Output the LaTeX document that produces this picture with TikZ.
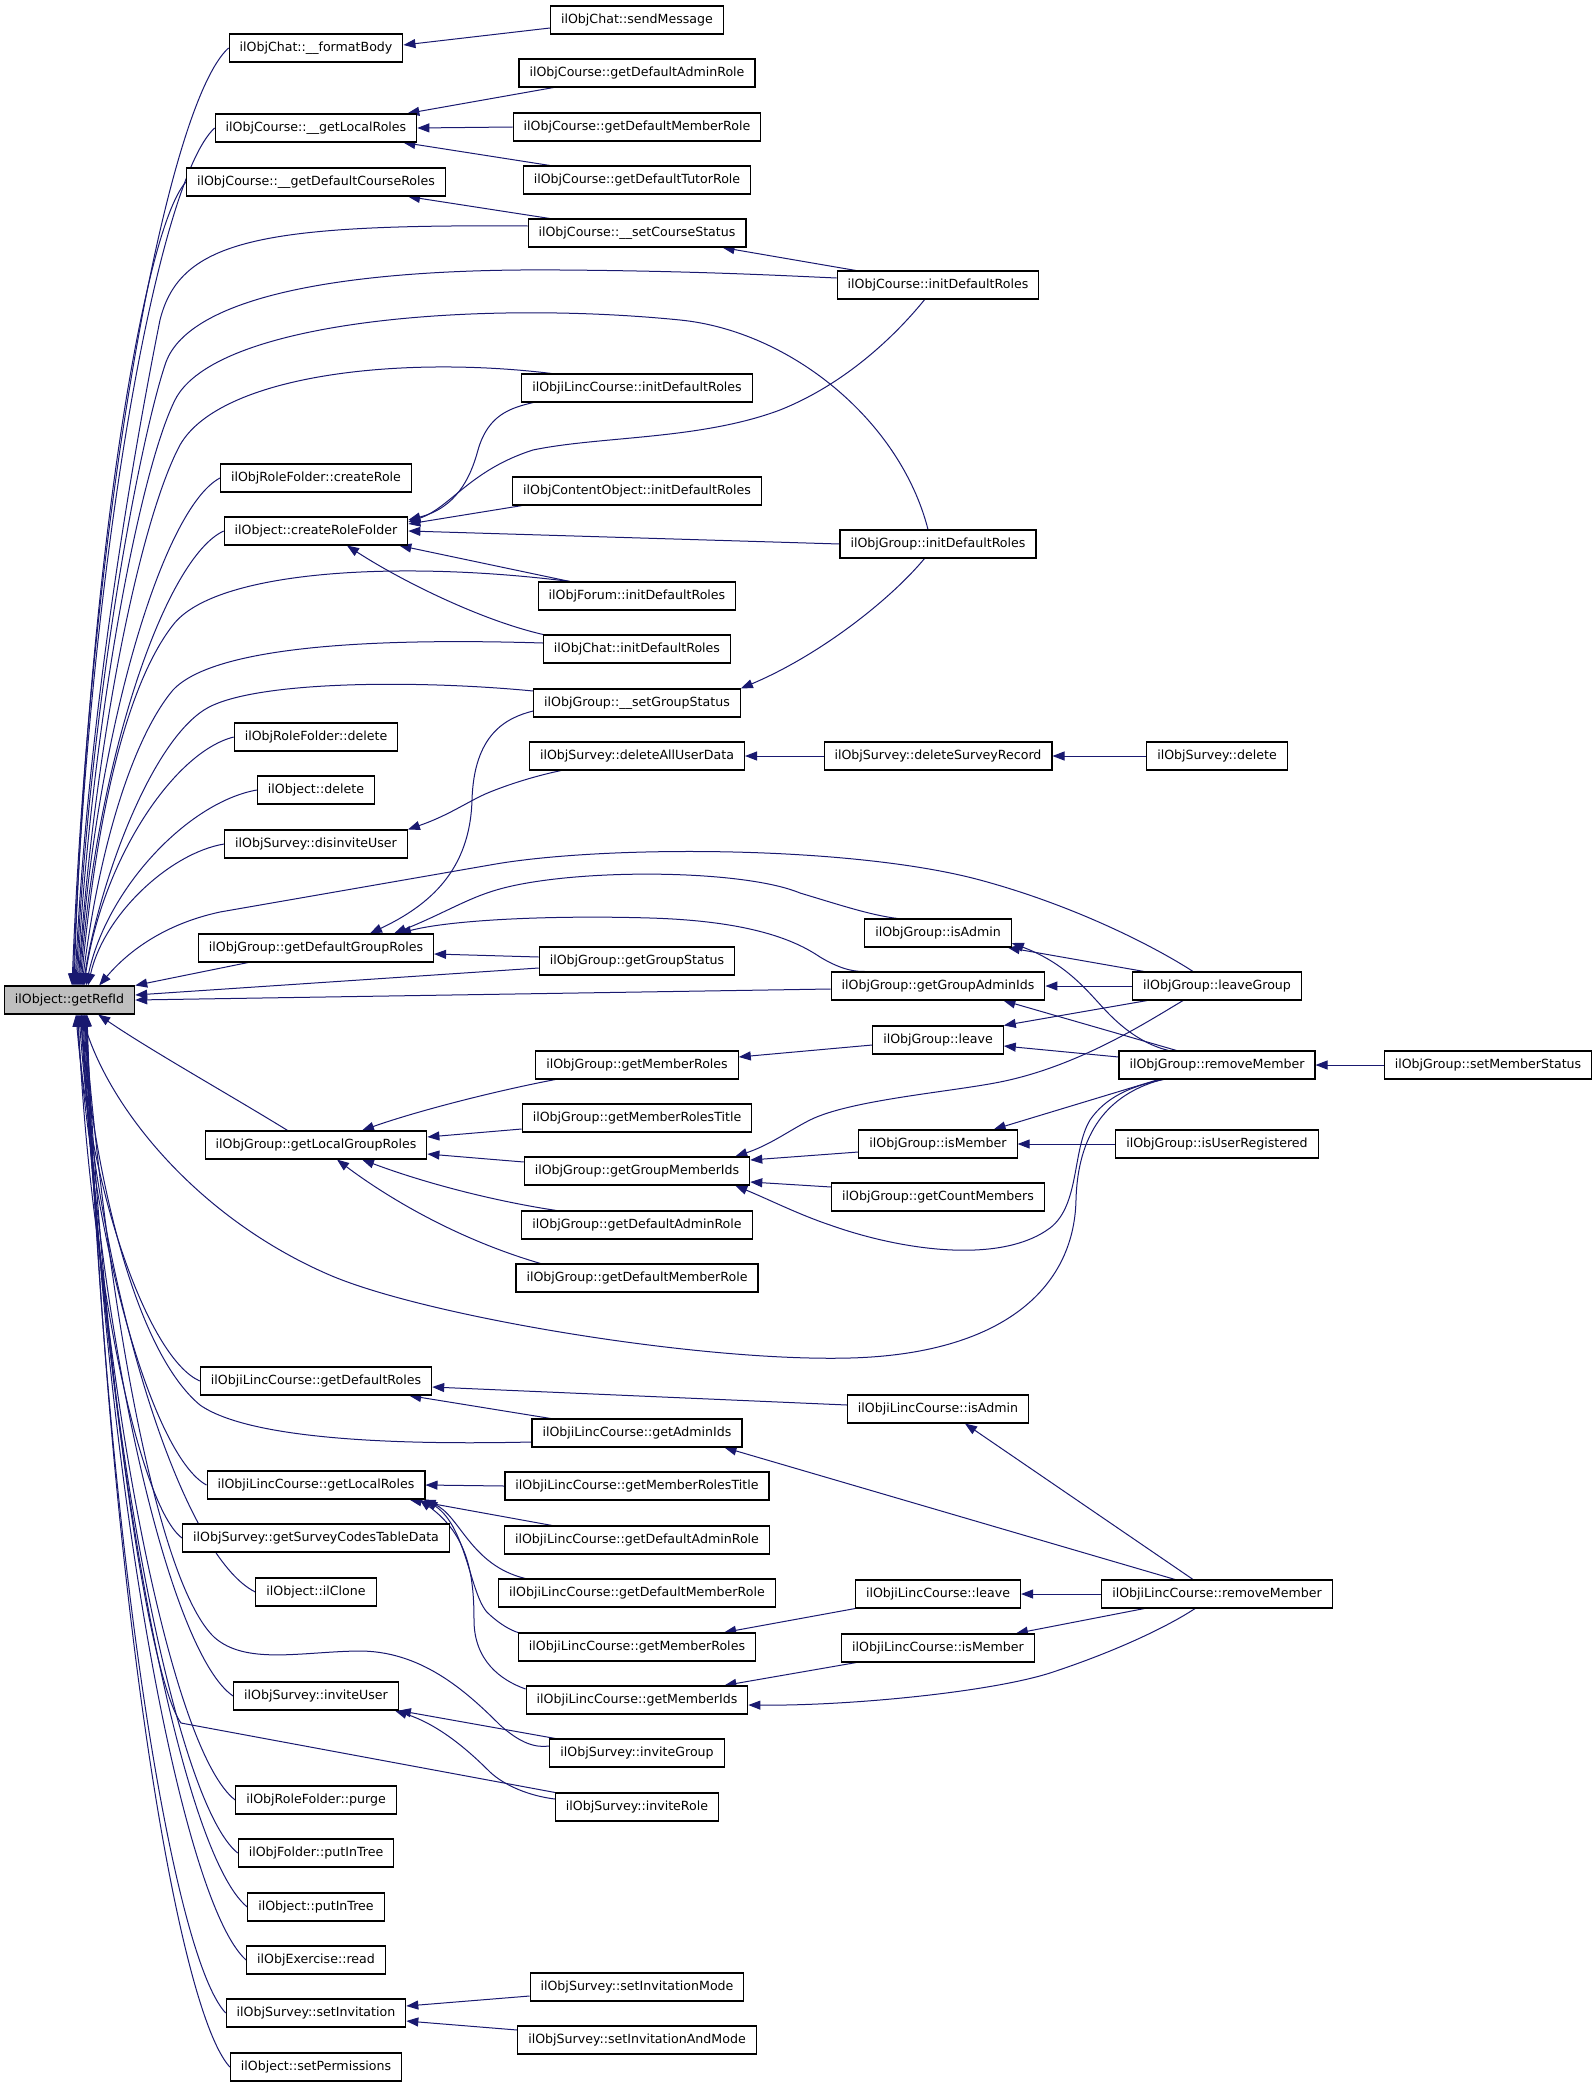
\documentclass[tikz,border=0pt]{standalone}
\usepackage{fontspec}
\setmainfont{DejaVu Sans}
\usetikzlibrary{arrows.meta,calc}
\definecolor{edgeblue}{HTML}{191970}
\definecolor{refgray}{HTML}{BFBFBF}
\pgfdeclarelayer{bg}
\pgfdeclarelayer{paper}
\pgfsetlayers{paper,bg,main}
\begin{document}
\begin{tikzpicture}[x=1pt,y=-1pt,
  >={Triangle[length=12pt,width=9pt]},
  fn/.style={draw=black, line width=1.1pt, fill=white, font=\fontsize{12.6pt}{15pt}\selectfont, inner xsep=10.5pt, inner ysep=0pt, minimum height=28pt},
  edg/.style={draw=edgeblue, line width=1pt, <-}]
\begin{pgfonlayer}{paper}
\fill[white] (0,0) rectangle (1595,2087);
\end{pgfonlayer}
\useasboundingbox (0,0) rectangle (1595,2087);

% root
\node[fn, fill=refgray] (refid) at (69.5,1000) {ilObject::getRefId};

% column B
\node[fn] (fb) at (316,48) {ilObjChat::\_\_formatBody};
\node[fn] (clr) at (316,128) {ilObjCourse::\_\_getLocalRoles};
\node[fn] (gdcr) at (316,182) {ilObjCourse::\_\_getDefaultCourseRoles};
\node[fn] (crole) at (316,478) {ilObjRoleFolder::createRole};
\node[fn] (crf) at (316,531) {ilObject::createRoleFolder};
\node[fn] (rfdel) at (316,737) {ilObjRoleFolder::delete};
\node[fn] (odel) at (316,790) {ilObject::delete};
\node[fn] (dis) at (316,844) {ilObjSurvey::disinviteUser};
\node[fn] (gdgr) at (316,948) {ilObjGroup::getDefaultGroupRoles};
\node[fn] (glgr) at (316,1145) {ilObjGroup::getLocalGroupRoles};
\node[fn] (ilgdr) at (316,1381) {ilObjiLincCourse::getDefaultRoles};
\node[fn] (illr) at (316,1485) {ilObjiLincCourse::getLocalRoles};
\node[fn] (sctd) at (316,1538) {ilObjSurvey::getSurveyCodesTableData};
\node[fn] (ilclone) at (316,1592) {ilObject::ilClone};
\node[fn] (iu) at (316,1696) {ilObjSurvey::inviteUser};
\node[fn] (purge) at (316,1800) {ilObjRoleFolder::purge};
\node[fn] (fpit) at (316,1853) {ilObjFolder::putInTree};
\node[fn] (opit) at (316,1907) {ilObject::putInTree};
\node[fn] (read) at (316,1960) {ilObjExercise::read};
\node[fn] (setinv) at (316,2013) {ilObjSurvey::setInvitation};
\node[fn] (setperm) at (316,2067) {ilObject::setPermissions};

% column C
\node[fn] (sm) at (637,20) {ilObjChat::sendMessage};
\node[fn] (car) at (637,73) {ilObjCourse::getDefaultAdminRole};
\node[fn] (cmr) at (637,127) {ilObjCourse::getDefaultMemberRole};
\node[fn] (ctr) at (637,180) {ilObjCourse::getDefaultTutorRole};
\node[fn] (scs) at (637,233) {ilObjCourse::\_\_setCourseStatus};
\node[fn] (ilinit) at (637,388) {ilObjiLincCourse::initDefaultRoles};
\node[fn] (coinit) at (637,491) {ilObjContentObject::initDefaultRoles};
\node[fn] (forum) at (637,596) {ilObjForum::initDefaultRoles};
\node[fn] (chatinit) at (637,649) {ilObjChat::initDefaultRoles};
\node[fn] (sgs) at (637,703) {ilObjGroup::\_\_setGroupStatus};
\node[fn] (daud) at (637,756) {ilObjSurvey::deleteAllUserData};
\node[fn] (ggs) at (637,961) {ilObjGroup::getGroupStatus};
\node[fn] (gmr) at (637,1065) {ilObjGroup::getMemberRoles};
\node[fn] (gmrt) at (637,1118) {ilObjGroup::getMemberRolesTitle};
\node[fn] (ggmi) at (637,1171) {ilObjGroup::getGroupMemberIds};
\node[fn] (gar) at (637,1225) {ilObjGroup::getDefaultAdminRole};
\node[fn] (gmrole) at (637,1278) {ilObjGroup::getDefaultMemberRole};
\node[fn] (ilgai) at (637,1433) {ilObjiLincCourse::getAdminIds};
\node[fn] (ilmrt) at (637,1486) {ilObjiLincCourse::getMemberRolesTitle};
\node[fn] (iladm) at (637,1540) {ilObjiLincCourse::getDefaultAdminRole};
\node[fn] (ilmemr) at (637,1593) {ilObjiLincCourse::getDefaultMemberRole};
\node[fn] (ilmroles) at (637,1647) {ilObjiLincCourse::getMemberRoles};
\node[fn] (ilmids) at (637,1700) {ilObjiLincCourse::getMemberIds};
\node[fn] (ig) at (637,1753) {ilObjSurvey::inviteGroup};
\node[fn] (ir) at (637,1807) {ilObjSurvey::inviteRole};
\node[fn] (sim) at (637,1987) {ilObjSurvey::setInvitationMode};
\node[fn] (siam) at (637,2040) {ilObjSurvey::setInvitationAndMode};

% column D
\node[fn] (cinit) at (938,285) {ilObjCourse::initDefaultRoles};
\node[fn] (ginit) at (938,544) {ilObjGroup::initDefaultRoles};
\node[fn] (dsr) at (938,756) {ilObjSurvey::deleteSurveyRecord};
\node[fn] (isadmin) at (938,933) {ilObjGroup::isAdmin};
\node[fn] (gga) at (938,986) {ilObjGroup::getGroupAdminIds};
\node[fn] (leave) at (938,1040) {ilObjGroup::leave};
\node[fn] (ism) at (938,1144) {ilObjGroup::isMember};
\node[fn] (gcm) at (938,1197) {ilObjGroup::getCountMembers};
\node[fn] (ilisadmin) at (938,1409) {ilObjiLincCourse::isAdmin};
\node[fn] (illeave) at (938,1594) {ilObjiLincCourse::leave};
\node[fn] (ilismem) at (938,1648) {ilObjiLincCourse::isMember};

% column E, F
\node[fn] (sdel) at (1217,756) {ilObjSurvey::delete};
\node[fn] (lg) at (1217,986) {ilObjGroup::leaveGroup};
\node[fn] (rm) at (1217,1065) {ilObjGroup::removeMember};
\node[fn] (iur) at (1217,1144) {ilObjGroup::isUserRegistered};
\node[fn] (ilrm) at (1217,1594) {ilObjiLincCourse::removeMember};
\node[fn] (sms) at (1488,1065) {ilObjGroup::setMemberStatus};

\begin{pgfonlayer}{bg}
% ---- edges into getRefId, upper column B
\draw[edg] ($(refid.north)+(2.5,0)$) .. controls +(19,-469) and +(-62,56) .. (fb.west);
\draw[edg] ($(refid.north)+(3.5,0)$) .. controls +(17,-429) and +(-56,51) .. (clr.west);
\draw[edg] ($(refid.north)+(4.5,0)$) .. controls +(13,-402) and +(-44,48) .. (gdcr.west);
\draw[edg] ($(refid.north)+(9.5,0)$) .. controls +(17,-254) and +(-57,30) .. (crole.west);
\draw[edg] ($(refid.north)+(10.5,0)$) .. controls +(17,-228) and +(-58,27) .. (crf.west);
\draw[edg] ($(refid.north)+(14.5,0)$) .. controls +(18,-125) and +(-60,15) .. (rfdel.west);
\draw[edg] ($(refid.north)+(16.5,0)$) .. controls +(21,-98) and +(-68,12) .. (odel.west);
\draw[edg] ($(refid.north)+(18.5,0)$) .. controls +(16,-71) and +(-54,9) .. (dis.west);
% upper long
\draw[edg] ($(refid.north)+(5.5,0)$) .. controls (88,700) and (140,420) .. (160,320) .. controls (180,240) and (260,224) .. ($(scs.west)+(0,-7)$);
\draw[edg] ($(refid.north)+(6.5,0)$) .. controls (90,700) and (140,440) .. (165,365) .. controls (185,300) and (330,268) .. (560,270) .. controls (700,271) and (790,276) .. ($(cinit.west)+(0,-7)$);
\draw[edg] ($(refid.north)+(7.5,0)$) .. controls (92,720) and (140,470) .. (175,400) .. controls (215,320) and (480,300) .. (680,320) .. controls (790,331) and (900,420) .. ($(ginit.north)+(-10,0)$);
\draw[edg] ($(refid.north)+(8.5,0)$) .. controls (95,740) and (140,520) .. (180,445) .. controls (220,375) and (400,355) .. ($(ilinit.north west)+(30,0)$);
\draw[edg] ($(refid.north)+(11.5,0)$) .. controls (98,800) and (130,680) .. (173,625) .. controls (215,570) and (400,560) .. ($(forum.north west)+(32,0)$);
\draw[edg] ($(refid.north)+(12.5,0)$) .. controls (100,840) and (135,735) .. (173,690) .. controls (215,645) and (380,638) .. ($(chatinit.west)+(0,-6)$);
\draw[edg] ($(refid.north)+(13.5,0)$) .. controls (100,880) and (150,745) .. (204,710) .. controls (250,680) and (420,680) .. ($(sgs.west)+(0,-12)$);
\draw[edg] ($(refid.north east)+(-36,0)$) .. controls (125,955) and (160,925) .. (220,912) -- (490,865) .. controls (600,845) and (850,845) .. (980,880) .. controls (1080,907) and (1160,950) .. ($(lg.north)+(-24,0)$);
\draw[edg] (refid.north east) -- ($(gdgr.south west)+(50,0)$);
\draw[edg] ($(refid.east)+(0,-5)$) -- ($(ggs.west)+(0,7)$);
\draw[edg] (refid.east) -- ($(gga.west)+(0,3)$);
% ---- lower
\draw[edg] ($(refid.south east)+(-37,0)$) .. controls (150,1050) and (230,1095) .. ($(glgr.north west)+(83,0)$);
\draw[edg] ($(refid.south)+(6.5,0)$) .. controls +(15,184) and +(-50,-22) .. (ilgdr.west);
\draw[edg] ($(refid.south)+(7.5,0)$) .. controls +(16,236) and +(-52,-28) .. (illr.west);
\draw[edg] ($(refid.south)+(8.5,0)$) .. controls +(12,262) and +(-42,-31) .. (sctd.west);
\draw[edg] ($(refid.south)+(9.5,0)$) .. controls +(21,289) and +(-71,-35) .. (ilclone.west);
\draw[edg] ($(refid.south)+(11.5,0)$) .. controls +(18,341) and +(-61,-41) .. (iu.west);
\draw[edg] ($(refid.south)+(12.5,0)$) .. controls +(19,393) and +(-62,-47) .. (purge.west);
\draw[edg] ($(refid.south)+(13.5,0)$) .. controls +(19,420) and +(-62,-50) .. (fpit.west);
\draw[edg] ($(refid.south)+(14.5,0)$) .. controls +(20,447) and +(-66,-54) .. (opit.west);
\draw[edg] ($(refid.south)+(15.5,0)$) .. controls +(19,473) and +(-64,-57) .. (read.west);
\draw[edg] ($(refid.south)+(16.5,0)$) .. controls +(17,500) and +(-56,-60) .. (setinv.west);
\draw[edg] ($(refid.south)+(17.5,0)$) .. controls +(17,527) and +(-57,-63) .. (setperm.west);
% lower long
\draw[edg] ($(refid.south)+(12,0)$) .. controls (110,1110) and (200,1220) .. (332,1276) .. controls (430,1317) and (700,1362) .. (850,1358) .. controls (1000,1354) and (1074,1290) .. (1076,1200) .. controls (1078,1125) and (1115,1092) .. ($(rm.south)+(-55,0)$);
\draw[edg] ($(refid.south)+(10.5,0)$) .. controls (98,1200) and (140,1355) .. (200,1405) .. controls (250,1440) and (400,1445) .. ($(ilgai.west)+(0,9)$);
\draw[edg] ($(refid.south)+(14.5,0)$) .. controls (110,1330) and (160,1585) .. (214,1637) .. controls (245,1665) and (300,1652) .. (357,1651) .. controls (420,1650) and (465,1690) .. (500,1725) .. controls (520,1743) and (535,1748) .. ($(ig.west)+(0,-7)$);
\draw[edg] ($(refid.south)+(16.5,0)$) .. controls (105,1400) and (150,1680) .. (181,1723) -- (ir.north west);

% ---- other edges
\draw[edg] ($(fb.east)+(0,-3)$) -- ($(sm.west)+(0,8)$);
\draw[edg] ($(clr.north east)+(-10,0)$) -- ($(car.south west)+(35,0)$);
\draw[edg] (clr.east) -- (cmr.west);
\draw[edg] ($(clr.south east)+(-14,0)$) -- ($(ctr.north west)+(27,0)$);
\draw[edg] ($(gdcr.south east)+(-38,0)$) -- ($(scs.north west)+(22,0)$);
\draw[edg] ($(scs.south east)+(-24,0)$) -- ($(cinit.north west)+(19,0)$);
\draw[edg] ($(crf.east)+(0,-9)$) .. controls (450,508) and (470,470) .. (533,450) .. controls (600,436) and (700,440) .. (780,410) .. controls (850,382) and (900,330) .. ($(cinit.south west)+(88,0)$);
\draw[edg] ($(crf.east)+(0,-11)$) .. controls (455,508) and (470,480) .. (478,450) .. controls (488,415) and (510,408) .. ($(ilinit.south west)+(12,0)$);
\draw[edg] ($(crf.east)+(0,-7)$) -- ($(coinit.south west)+(10,0)$);
\draw[edg] (crf.east) -- (ginit.west);
\draw[edg] ($(crf.south east)+(-9,0)$) -- ($(forum.north west)+(32,0)$);
\draw[edg] ($(crf.south)+(31,0)$) .. controls (400,580) and (480,620) .. (chatinit.north west);
\draw[edg] (sgs.north east) .. controls (820,655) and (890,600) .. ($(ginit.south west)+(85,0)$);
\draw[edg] ($(gdgr.north)+(54,0)$) .. controls (430,905) and (470,870) .. (472,800) .. controls (474,735) and (505,718) .. ($(sgs.west)+(0,8)$);
\draw[edg] (dis.north east) .. controls (450,815) and (470,800) .. (490,792) .. controls (515,782) and (540,775) .. ($(daud.south west)+(32,0)$);
\draw[edg] (daud.east) -- (dsr.west);
\draw[edg] (dsr.east) -- (sdel.west);
\draw[edg] ($(gdgr.north east)+(-40,0)$) .. controls (440,915) and (465,900) .. (490,892) .. controls (560,868) and (740,868) .. (800,893) .. controls (840,905) and (870,915) .. ($(isadmin.north west)+(33,0)$);
\draw[edg] ($(gdgr.north east)+(-35,0)$) .. controls (450,920) and (550,915) .. (650,918) .. controls (750,921) and (795,940) .. (820,957) .. controls (835,966) and (850,972) .. ($(gga.north west)+(34,0)$);
\draw[edg] ($(gdgr.east)+(0,6)$) -- ($(ggs.west)+(0,-4)$);
\draw[edg] (gga.east) -- (lg.west);
\draw[edg] ($(gga.south east)+(-42,0)$) -- ($(rm.north west)+(58,0)$);
\draw[edg] ($(isadmin.south east)+(-4,0)$) -- ($(lg.north west)+(12,0)$);
\draw[edg] ($(isadmin.east)+(0,10)$) .. controls (1070,965) and (1090,995) .. (1110,1015) .. controls (1130,1035) and (1150,1046) .. ($(rm.north west)+(50,0)$);
\draw[edg] (leave.north east) -- ($(lg.south west)+(15,0)$);
\draw[edg] ($(leave.east)+(0,6)$) -- ($(rm.west)+(0,-8)$);
\draw[edg] ($(gmr.east)+(0,-8)$) -- ($(leave.west)+(0,5)$);
\draw[edg] ($(glgr.north)+(46,0)$) .. controls (420,1110) and (500,1090) .. ($(gmr.south west)+(20,0)$);
\draw[edg] ($(glgr.east)+(0,-8)$) -- ($(gmrt.west)+(0,11)$);
\draw[edg] ($(glgr.east)+(0,9)$) -- ($(ggmi.west)+(0,-9)$);
\draw[edg] ($(glgr.south)+(46,0)$) .. controls (430,1185) and (500,1202) .. ($(gar.north west)+(35,0)$);
\draw[edg] ($(glgr.south)+(21,0)$) .. controls (380,1192) and (450,1237) .. ($(gmrole.north west)+(25,0)$);
\draw[edg] ($(ggmi.north east)+(-15,0)$) .. controls (770,1145) and (790,1130) .. (810,1120) .. controls (850,1100) and (950,1092) .. (1000,1082) .. controls (1080,1066) and (1150,1020) .. ($(lg.south west)+(51,0)$);
\draw[edg] ($(ggmi.east)+(0,-11)$) -- ($(ism.west)+(0,8)$);
\draw[edg] ($(ggmi.east)+(0,11)$) -- ($(gcm.west)+(0,-10)$);
\draw[edg] ($(ggmi.south east)+(-15,0)$) .. controls (770,1200) and (800,1215) .. (830,1225) .. controls (900,1250) and (1000,1265) .. (1050,1228) .. controls (1080,1205) and (1072,1150) .. (1090,1120) .. controls (1105,1098) and (1130,1086) .. ($(rm.south west)+(45,0)$);
\draw[edg] ($(ism.north east)+(-24,0)$) -- ($(rm.south west)+(40,0)$);
\draw[edg] (ism.east) -- (iur.west);
\draw[edg] (rm.east) -- (sms.west);
\draw[edg] ($(ilgdr.east)+(0,6)$) -- ($(ilisadmin.west)+(0,-4)$);
\draw[edg] ($(ilgdr.south east)+(-23,0)$) -- ($(ilgai.north west)+(19,0)$);
\draw[edg] ($(ilisadmin.south)+(27,0)$) -- ($(ilrm.north)+(-24,0)$);
\draw[edg] ($(ilgai.south east)+(-18,0)$) -- ($(ilrm.north)+(-42,0)$);
\draw[edg] (illr.east) -- (ilmrt.west);
\draw[edg] ($(illr.south east)+(-16,0)$) -- ($(iladm.north west)+(48,0)$);
\draw[edg] ($(illr.south east)+(-2,0)$) .. controls (460,1515) and (470,1565) .. ($(ilmemr.north west)+(27,0)$);
\draw[edg] (illr.south east) .. controls (468,1528) and (470,1600) .. (490,1615) .. controls (500,1624) and (510,1630) .. (ilmroles.north west);
\draw[edg] ($(illr.south east)+(-6,0)$) .. controls (468,1535) and (474,1575) .. (474,1620) .. controls (474,1660) and (500,1680) .. ($(ilmids.west)+(0,-11)$);
\draw[edg] ($(ilmroles.north east)+(-32,0)$) -- (illeave.south west);
\draw[edg] (illeave.east) -- (ilrm.west);
\draw[edg] ($(ilismem.north east)+(-19,0)$) -- ($(ilrm.south west)+(43,0)$);
\draw[edg] ($(ilmids.north east)+(-24,0)$) -- ($(ilismem.south west)+(15,0)$);
\draw[edg] ($(ilmids.east)+(0,5)$) .. controls (850,1706) and (990,1692) .. (1050,1673) .. controls (1120,1650) and (1170,1625) .. ($(ilrm.south)+(-22,0)$);
\draw[edg] (iu.south east) -- ($(ig.north west)+(6,0)$);
\draw[edg] ($(iu.south east)+(-4,0)$) .. controls (440,1725) and (470,1752) .. (490,1772) .. controls (505,1786) and (530,1796) .. ($(ir.west)+(0,-8)$);
\draw[edg] ($(setinv.east)+(0,-7)$) -- ($(sim.west)+(0,9)$);
\draw[edg] ($(setinv.east)+(0,8)$) -- ($(siam.west)+(0,-10)$);
\end{pgfonlayer}
\end{tikzpicture}
\end{document}
